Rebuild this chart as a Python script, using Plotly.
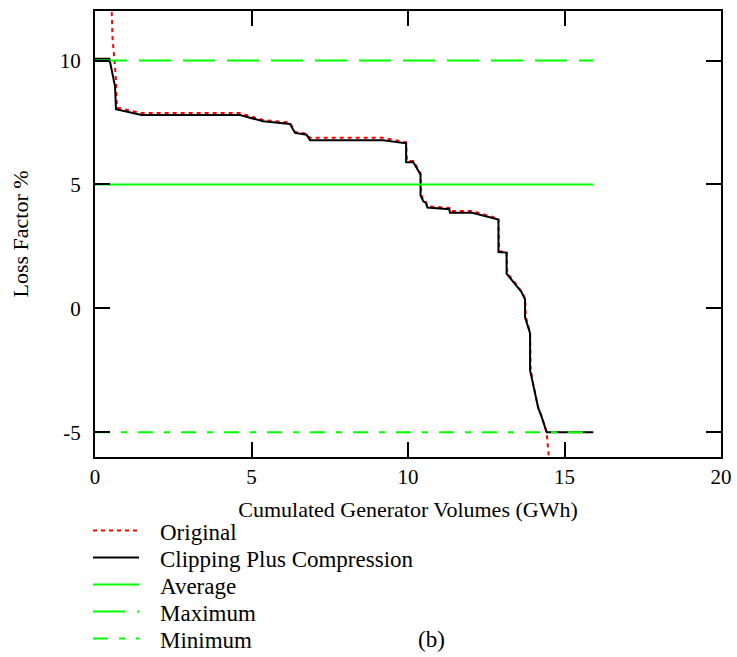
import plotly.graph_objects as go

# Data
clip_x = [0, 0.46, 0.64, 0.67, 1.49, 4.63, 5.37, 6.23, 6.39, 6.76, 6.87, 9.21, 9.94, 9.94,
          10.17, 10.40, 10.40, 10.49, 10.57, 10.62, 11.32, 11.34, 12.05, 12.89, 12.89, 13.15,
          13.15, 13.63, 13.74, 13.74, 13.90, 13.90, 14.00, 14.16, 14.27, 14.43, 15.92]
clip_y = [10.07, 10.07, 8.96, 8.04, 7.80, 7.80, 7.55, 7.44, 7.08, 7.01, 6.78, 6.78, 6.66, 5.90,
          5.90, 5.40, 4.55, 4.32, 4.26, 4.07, 4.00, 3.86, 3.86, 3.58, 2.27, 2.25,
          1.40, 0.65, 0.36, -0.36, -1.00, -2.50, -3.08, -4.02, -4.38, -5.00, -5.00]

orig_x = [0.52, 0.56, 0.62, 0.67, 0.70, 1.49, 4.63, 5.37, 6.23, 6.39, 6.76, 6.87, 9.21, 9.94,
          9.97, 10.17, 10.40, 10.42, 10.49, 10.57, 10.62, 11.32, 11.34, 12.05, 12.89, 12.91,
          13.15, 13.17, 13.63, 13.74, 13.76, 13.90, 13.92, 14.00, 14.16, 14.27, 14.43, 14.50, 14.52]
orig_y = [12.6, 10.9, 10.04, 9.23, 8.10, 7.88, 7.88, 7.60, 7.50, 7.12, 7.05, 6.88, 6.88, 6.70,
          5.95, 5.95, 5.45, 4.60, 4.36, 4.30, 4.12, 4.05, 3.93, 3.93, 3.62, 2.30,
          2.28, 1.43, 0.68, 0.40, -0.33, -0.98, -2.45, -3.05, -4.00, -4.36, -5.00, -5.90, -6.30]

ref_x = [0, 15.92]
average_y = 5.0
maximum_y = 10.0
minimum_y = -5.0

x_ticks = [0, 5, 10, 15, 20]
y_ticks = [-5, 0, 5, 10]
y_tick_text = ["-5", "0", "5", "10"]

series_names = ["Original", "Clipping Plus Compression", "Average", "Maximum", "Minimum"]

FONT = "Liberation Serif"
GREEN = "#00ff00"
styles = [
    dict(color="#ff0000", width=2, dash="4px,4px"),
    dict(color="black", width=2),
    dict(color=GREEN, width=2),
    dict(color=GREEN, width=2, dash="32px,12px"),
    dict(color=GREEN, width=2, dash="15px,11px,6px,11px"),
]

fig = go.Figure()
fig.add_trace(go.Scatter(x=orig_x, y=orig_y, mode="lines", name=series_names[0],
                         line=styles[0], showlegend=False))
fig.add_trace(go.Scatter(x=clip_x, y=clip_y, mode="lines", name=series_names[1],
                         line=styles[1], showlegend=False))
fig.add_trace(go.Scatter(x=ref_x, y=[average_y] * 2, mode="lines", name=series_names[2],
                         line=styles[2], showlegend=False))
fig.add_trace(go.Scatter(x=ref_x, y=[maximum_y] * 2, mode="lines", name=series_names[3],
                         line=styles[3], showlegend=False))
fig.add_trace(go.Scatter(x=ref_x, y=[minimum_y] * 2, mode="lines", name=series_names[4],
                         line=styles[4], showlegend=False))

# plot area geometry (pixels)
L, R, T, B = 95, 16, 11, 200
W, H = 737, 657
PW, PH = W - L - R, H - T - B


def px_x(p):
    return (p - L) / PW


def px_y(p):
    return (H - B - p) / PH


shapes = []
annotations = []
for i, (name, st) in enumerate(zip(series_names, styles)):
    row = 530.5 + 27 * i
    shapes.append(dict(type="line", xref="paper", yref="paper",
                       x0=px_x(93), x1=px_x(139), y0=px_y(row), y1=px_y(row),
                       line=st))
    annotations.append(dict(text=name, xref="paper", yref="paper", x=px_x(158),
                            y=px_y(row + 2), xanchor="left", yanchor="middle",
                            showarrow=False, font=dict(family=FONT, size=23, color="black")))
annotations.append(dict(text="(b)", x=px_x(431), y=px_y(639), xref="paper", yref="paper",
                        xanchor="center", yanchor="middle",
                        showarrow=False, font=dict(family=FONT, size=23, color="black")))

axis_common = dict(showgrid=False, zeroline=False, showline=True, linecolor="black",
                   linewidth=2, ticks="inside", ticklen=15, tickwidth=2, tickcolor="black",
                   mirror="ticks", tickfont=dict(family=FONT, size=21, color="black"))

fig.update_layout(
    width=W, height=H,
    margin=dict(l=L, r=R, t=T, b=B, autoexpand=False),
    paper_bgcolor="white", plot_bgcolor="white",
    font=dict(family=FONT, size=22, color="black"),
    xaxis=dict(range=[0, 20], tickvals=x_ticks, ticklabelstandoff=0,
               title=dict(text="Cumulated Generator Volumes (GWh)", standoff=13,
                          font=dict(family=FONT, size=22)),
               **axis_common),
    yaxis=dict(range=[-6, 12], tickvals=y_ticks, ticktext=y_tick_text, ticklabelstandoff=8,
               title=dict(text="Loss Factor %", standoff=25,
                          font=dict(family=FONT, size=22)),
               **axis_common),
    showlegend=False,
    shapes=shapes,
    annotations=annotations,
)

fig.write_html("out.html", config={"displayModeBar": False},
               post_script="document.body.style.margin='0px';")
